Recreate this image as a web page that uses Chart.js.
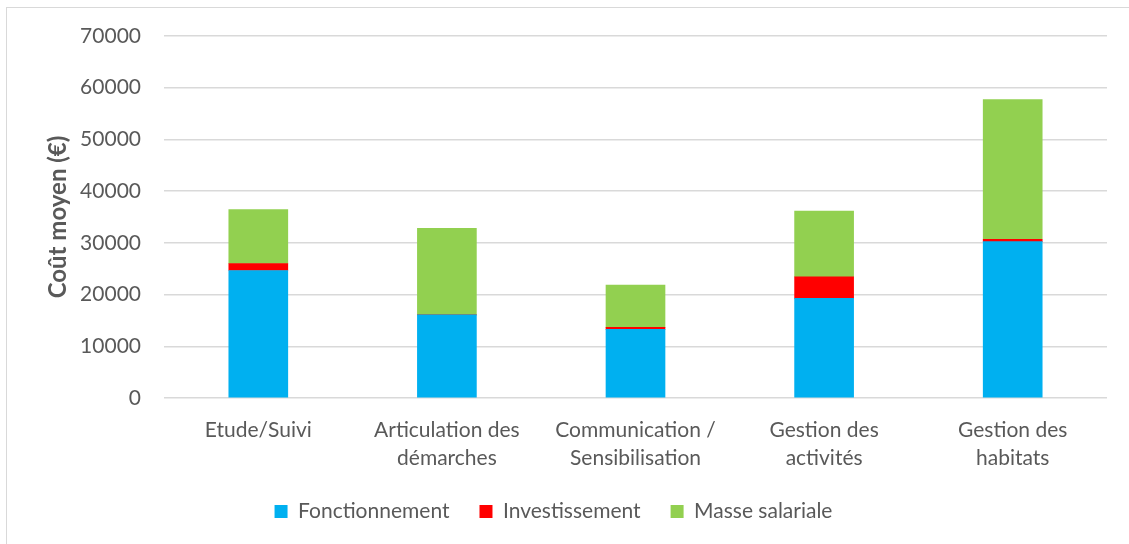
<!DOCTYPE html>
<html>
<head>
<meta charset="utf-8">
<script src="https://cdn.jsdelivr.net/npm/chart.js@4"></script>
<style>
  html, body { margin: 0; padding: 0; background: #fff; }
  #frame { position: absolute; left: 6px; top: 7px; width: 1200px; height: 600px; border: 1px solid #d9d9d9; }
  #cost-chart { position: absolute; left: 0; top: 0; }
</style>
</head>
<body>
<div id="frame"></div>
<canvas id="cost-chart" width="1129" height="544"></canvas>
<script>
// Coût moyen par type d'action (€)
const categories = [
    'Etude/Suivi',
    ['Articulation des', 'démarches'],
    ['Communication /', 'Sensibilisation'],
    ['Gestion des', 'activités'],
    ['Gestion des', 'habitats']
];
const fonctionnement = [24650, 16080, 13260, 19250, 30250];
const investissement = [1350, 0, 400, 4170, 450];
const masseSalariale = [10430, 16740, 8170, 12740, 27020];
const yTicks = [0, 10000, 20000, 30000, 40000, 50000, 60000, 70000];

const textColor = '#595959';
const family = 'Lato, "Open Sans", sans-serif';
const font = { family: family, size: 21 };

function initCostChart() {
    const canvas = document.getElementById('cost-chart');
    const ctx = canvas.getContext('2d');
    const padBottom = 12;

    new Chart(ctx, {
        type: 'bar',
        data: {
            labels: categories,
            datasets: [
                { label: 'Fonctionnement', data: fonctionnement, backgroundColor: '#00b0f0' },
                { label: 'Investissement', data: investissement, backgroundColor: '#ff0000' },
                { label: 'Masse salariale', data: masseSalariale, backgroundColor: '#92d050' }
            ]
        },
        options: {
            responsive: false,
            animation: false,
            layout: { padding: { left: 0, right: 22, top: 36, bottom: padBottom } },
            datasets: { bar: { barThickness: 59, borderWidth: 0 } },
            plugins: {
                legend: {
                    position: 'bottom',
                    labels: {
                        font: font,
                        color: textColor,
                        boxWidth: 13,
                        boxHeight: 13,
                        padding: 30
                    }
                },
                tooltip: { enabled: false }
            },
            scales: {
                x: {
                    stacked: true,
                    grid: { display: false, drawTicks: false },
                    border: { display: false },
                    ticks: {
                        font: { family: family, size: 21, lineHeight: 1.35 },
                        color: textColor, padding: 18, maxRotation: 0, autoSkip: false
                    },
                    afterFit: s => {
                        const legendH = s.chart.legend ? s.chart.legend.height : 0;
                        s.height = s.chart.height - padBottom - legendH - 398;
                    }
                },
                y: {
                    stacked: true,
                    min: 0,
                    max: 70000,
                    afterBuildTicks: s => { s.ticks = yTicks.map(v => ({ value: v })); },
                    grid: { color: '#d9d9d9', lineWidth: 1.5, drawTicks: false },
                    border: { display: false },
                    ticks: { font: font, color: textColor, padding: 23, callback: v => String(v) },
                    title: {
                        display: true,
                        text: 'Coût moyen (€)',
                        color: textColor,
                        font: { family: family, size: 24, weight: 'bold' },
                        padding: { top: 44, bottom: 0 }
                    },
                    afterFit: s => { s.width = 164; }
                }
            }
        }
    });
}

document.addEventListener('DOMContentLoaded', initCostChart);
</script>
</body>
</html>
